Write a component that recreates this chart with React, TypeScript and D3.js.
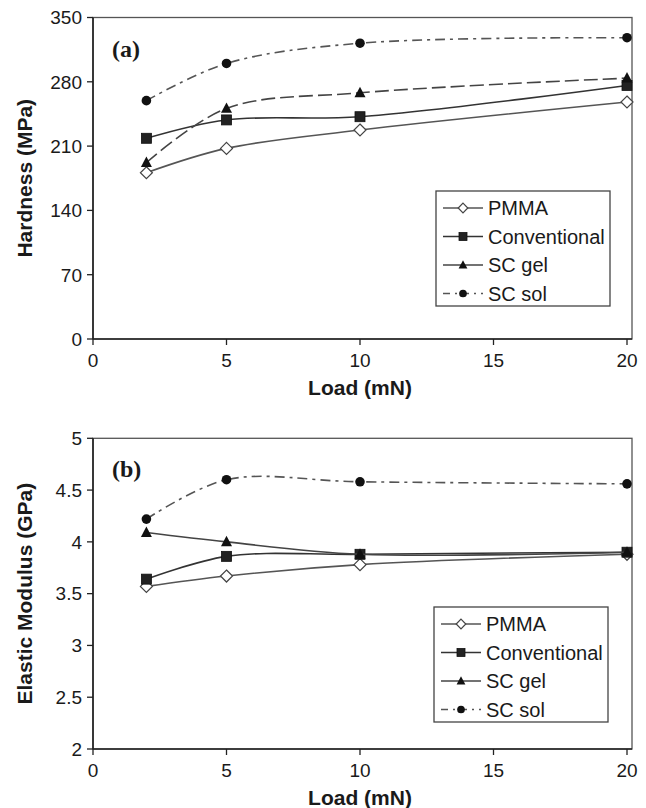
import React from "react";
import * as d3 from "d3";

const loads = [2, 5, 10, 20];
const xTicks = [0, 5, 10, 15, 20];

const seriesNames = ["PMMA", "Conventional", "SC gel", "SC sol"];

const hardnessPMMA = [181, 207.5, 227.5, 258];
const hardnessConventional = [218.5, 238.5, 242, 276];
const hardnessSCgel = [192, 251, 268, 284];
const hardnessSCsol = [259.5, 300, 322, 328];
const hardnessTicks = [0, 70, 140, 210, 280, 350];

const modulusPMMA = [3.57, 3.67, 3.78, 3.88];
const modulusConventional = [3.64, 3.86, 3.88, 3.90];
const modulusSCgel = [4.09, 4.0, 3.88, 3.90];
const modulusSCsol = [4.22, 4.60, 4.58, 4.56];
const modulusTicks = [2, 2.5, 3, 3.5, 4, 4.5, 5];

const FONT = "Arial, 'Liberation Sans', sans-serif";
const SERIF = "'Times New Roman', 'Liberation Serif', serif";
const INK = "#1a1a1a";

type Series = { name: string; values: number[]; marker: string; dash: string; color: string };

function Marker({ type, x, y, s }: { type: string; x: number; y: number; s: number }) {
  if (type === "diamond") {
    const h = s * 0.6;
    return (
      <path
        d={`M${x},${y - h}L${x + h},${y}L${x},${y + h}L${x - h},${y}Z`}
        fill="#fff"
        stroke="#444"
        strokeWidth={1.2}
      />
    );
  }
  if (type === "square") {
    const h = s * 0.5;
    return <rect x={x - h} y={y - h} width={2 * h} height={2 * h} fill="#222" stroke="#111" strokeWidth={0.8} />;
  }
  if (type === "triangle") {
    const h = s * 0.55;
    return <path d={`M${x},${y - h * 1.1}L${x + h},${y + h * 0.8}L${x - h},${y + h * 0.8}Z`} fill="#111" />;
  }
  return <circle cx={x} cy={y} r={s * 0.48} fill="#111" />;
}

function Panel({
  top,
  bottom,
  yDomain,
  yTicks,
  series,
  yTitle,
  tag,
  legendX,
  legendY,
  fmt,
}: {
  top: number;
  bottom: number;
  yDomain: [number, number];
  yTicks: number[];
  series: Series[];
  yTitle: string;
  tag: string;
  legendX: number;
  legendY: number;
  fmt: (v: number) => string;
}) {
  const left = 93;
  const frameRight = 632;
  const x = d3.scaleLinear().domain([0, 20]).range([left, 627]);
  const y = d3.scaleLinear().domain(yDomain).range([bottom, top]);
  const line = d3
    .line<number>()
    .x((_, i) => x(loads[i]))
    .y((v) => y(v))
    .curve(d3.curveCatmullRom.alpha(0.5));
  const midY = (top + bottom) / 2;
  const legendW = 174;
  const legendH = 115;
  const rowH = 28.5;

  return (
    <g>
      {/* frame */}
      <rect x={left} y={top} width={frameRight - left} height={bottom - top} fill="none" stroke="#555" strokeWidth={1.3} />
      <line x1={left} x2={frameRight} y1={bottom} y2={bottom} stroke="#222" strokeWidth={1.6} />
      <line x1={left} x2={left} y1={top} y2={bottom} stroke="#222" strokeWidth={1.6} />

      {/* y ticks */}
      {yTicks.map((t) => (
        <g key={"y" + t}>
          <line x1={left - 6} x2={left} y1={y(t)} y2={y(t)} stroke="#222" strokeWidth={1.3} />
          <text x={left - 11} y={y(t)} dy="0.36em" textAnchor="end" fontFamily={FONT} fontSize={19} fill={INK}>
            {fmt(t)}
          </text>
        </g>
      ))}
      {/* x ticks */}
      {xTicks.map((t) => (
        <g key={"x" + t}>
          <line x1={x(t)} x2={x(t)} y1={bottom} y2={bottom + 6} stroke="#222" strokeWidth={1.3} />
          <text x={x(t)} y={bottom + 28} textAnchor="middle" fontFamily={FONT} fontSize={19} fill={INK}>
            {t}
          </text>
        </g>
      ))}

      {/* titles */}
      <text x={360} y={bottom + 56} textAnchor="middle" fontFamily={FONT} fontSize={21} fontWeight="bold" fill={INK}>
        Load (mN)
      </text>
      <text
        transform={`translate(32,${midY}) rotate(-90)`}
        textAnchor="middle"
        fontFamily={FONT}
        fontSize={21}
        fontWeight="bold"
        fill={INK}
      >
        {yTitle}
      </text>
      <text x={112} y={top + 39} fontFamily={SERIF} fontSize={24} fontWeight="bold" fill={INK}>
        {tag}
      </text>

      {/* series */}
      {series.map((s) => (
        <g key={s.name}>
          <path d={line(s.values) || ""} fill="none" stroke={s.color} strokeWidth={1.6} strokeDasharray={s.dash} />
          {s.values.map((v, i) => (
            <Marker key={i} type={s.marker} x={x(loads[i])} y={y(v)} s={10} />
          ))}
        </g>
      ))}

      {/* legend */}
      <rect x={legendX} y={legendY} width={legendW} height={legendH} fill="#fff" stroke="#444" strokeWidth={1.3} />
      {series.map((s, i) => {
        const cy = legendY + 17 + i * rowH;
        return (
          <g key={"l" + s.name}>
            <line
              x1={legendX + 7}
              x2={legendX + 47}
              y1={cy}
              y2={cy}
              stroke={s.color}
              strokeWidth={1.4}
              strokeDasharray={s.name === "SC sol" ? "7,5,2,5" : ""}
            />
            <Marker type={s.marker} x={legendX + 27} y={cy} s={8} />
            <text x={legendX + 52} y={cy} dy="0.36em" fontFamily={FONT} fontSize={20} fill={INK}>
              {s.name}
            </text>
          </g>
        );
      })}
    </g>
  );
}

export default function App() {
  const seriesA: Series[] = [
    { name: seriesNames[0], values: hardnessPMMA, marker: "diamond", dash: "", color: "#555" },
    { name: seriesNames[1], values: hardnessConventional, marker: "square", dash: "", color: "#333" },
    { name: seriesNames[2], values: hardnessSCgel, marker: "triangle", dash: "14,5", color: "#444" },
    { name: seriesNames[3], values: hardnessSCsol, marker: "circle", dash: "10,5,3,5", color: "#555" },
  ];
  const seriesB: Series[] = [
    { name: seriesNames[0], values: modulusPMMA, marker: "diamond", dash: "", color: "#555" },
    { name: seriesNames[1], values: modulusConventional, marker: "square", dash: "", color: "#333" },
    { name: seriesNames[2], values: modulusSCgel, marker: "triangle", dash: "", color: "#444" },
    { name: seriesNames[3], values: modulusSCsol, marker: "circle", dash: "10,5,3,5", color: "#555" },
  ];
  return (
    <svg
      width={646}
      height={808}
      style={{ position: "absolute", left: 0, top: 0, background: "#fff" }}
    >
      <rect x={0} y={0} width={646} height={808} fill="#fff" />
      <Panel
        top={17.5}
        bottom={339}
        yDomain={[0, 350]}
        yTicks={hardnessTicks}
        series={seriesA}
        yTitle="Hardness (MPa)"
        tag="(a)"
        legendX={436}
        legendY={191}
        fmt={(v) => String(v)}
      />
      <Panel
        top={438.3}
        bottom={749}
        yDomain={[2, 5]}
        yTicks={modulusTicks}
        series={seriesB}
        yTitle="Elastic Modulus (GPa)"
        tag="(b)"
        legendX={434}
        legendY={607}
        fmt={(v) => String(v)}
      />
    </svg>
  );
}
